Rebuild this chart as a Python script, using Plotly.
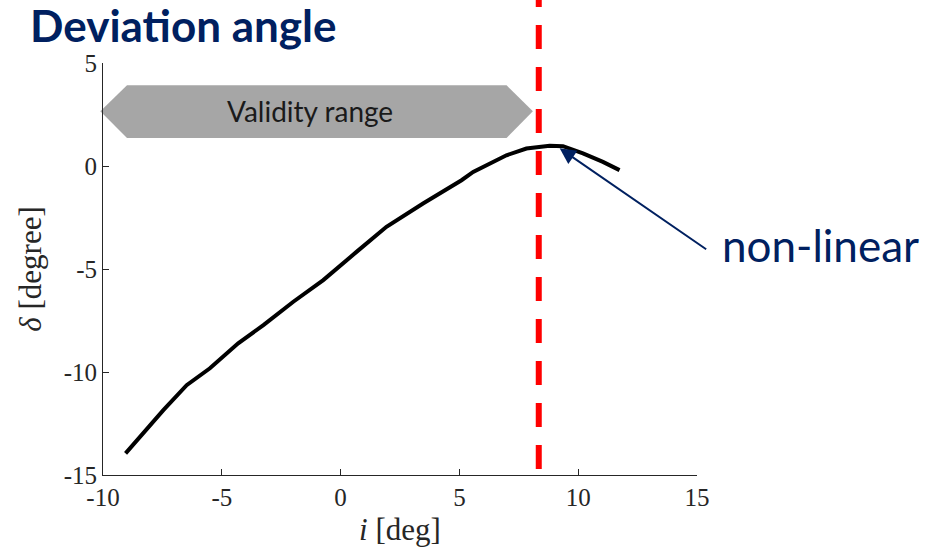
import plotly.graph_objects as go

# Curve data
incidence = [-9.05, -7.46, -6.48, -5.50, -4.31, -3.25, -1.99, -0.73, 0.67, 1.93,
             3.47, 4.18, 5.09, 5.58, 6.98, 7.82, 8.80, 9.36, 10.20, 11.04, 11.74]
deviation = [-13.95, -11.85, -10.64, -9.82, -8.61, -7.72, -6.59, -5.54, -4.17, -2.95,
             -1.82, -1.33, -0.69, -0.29, 0.52, 0.85, 0.98, 0.96, 0.61, 0.20, -0.20]
x_ticks = [-10, -5, 0, 5, 10, 15]
y_ticks = [-15, -10, -5, 0, 5]
limit_x = 8.34
arrow_head = (9.22, 0.86)

NAVY = "#002060"
AX = "#262626"
SERIF = "Liberation Serif, Times New Roman, serif"
SANS = "Lato, Carlito, Calibri, sans-serif"

fig = go.Figure()
fig.add_trace(go.Scatter(x=incidence, y=deviation, mode="lines",
                         line=dict(color="black", width=4), showlegend=False,
                         hoverinfo="skip"))

# red dashed limit line (extends above the axes)
fig.add_shape(type="line", xref="x", yref="paper", x0=limit_x, x1=limit_x,
              y0=0.0146, y1=1.1795,
              line=dict(color="#FF0000", width=6, dash="24px,18px"), layer="above")

# validity range double arrow (grey hexagon)
fig.add_shape(type="path", xref="paper", yref="paper",
              path="M -0.0045 0.8828 L 0.0404 0.9459 L 0.6794 0.9459 L 0.7237 0.8828 "
                   "L 0.6794 0.8181 L 0.0404 0.8181 Z",
              fillcolor="#A6A6A6", line=dict(width=0), layer="below")
fig.add_annotation(xref="paper", yref="paper", x=0.349, y=0.8828,
                   text="Validity range", showarrow=False,
                   font=dict(family=SANS, size=28, color="#1a1a1a"),
                   xanchor="center", yanchor="middle")

# non-linear arrow + text
fig.add_annotation(x=arrow_head[0], y=arrow_head[1], xref="x", yref="y",
                   text="", showarrow=True, ax=148, ay=102,
                   arrowhead=2, arrowsize=1.6, arrowwidth=2, arrowcolor=NAVY)
fig.add_annotation(xref="paper", yref="paper", x=1.208, y=0.558,
                   text="non-linear", showarrow=False,
                   font=dict(family=SANS, size=44, color=NAVY),
                   xanchor="center", yanchor="middle")

fig.update_layout(
    width=940, height=550,
    margin=dict(l=103, r=243, t=63, b=75),
    paper_bgcolor="white", plot_bgcolor="white",
    title=dict(text="<b>Deviation angle</b>", xref="container", yref="container",
               x=0.032, y=0.951, xanchor="left", yanchor="middle",
               font=dict(family=SANS, size=44, color=NAVY)),
    xaxis=dict(range=[-10, 15], tickvals=x_ticks, ticktext=[str(v) for v in x_ticks],
               showgrid=False, zeroline=False, showline=True, linecolor=AX, linewidth=1,
               ticks="inside", ticklen=6, tickcolor=AX, mirror=False, automargin=False,
               tickfont=dict(family=SERIF, size=25, color=AX),
               title=dict(text="<i>i</i> [deg]", font=dict(family=SERIF, size=31, color=AX),
                          standoff=8)),
    yaxis=dict(range=[-15, 5], tickvals=y_ticks, ticktext=[str(v) for v in y_ticks],
               showgrid=False, zeroline=False, showline=True, linecolor=AX, linewidth=1,
               ticks="inside", ticklen=6, tickcolor=AX, mirror=False, automargin=False,
               tickfont=dict(family=SERIF, size=25, color=AX),
               title=dict(text="<i>δ</i> [degree]", font=dict(family=SERIF, size=31, color=AX),
                          standoff=12)),
)

fig.write_html("out.html")
